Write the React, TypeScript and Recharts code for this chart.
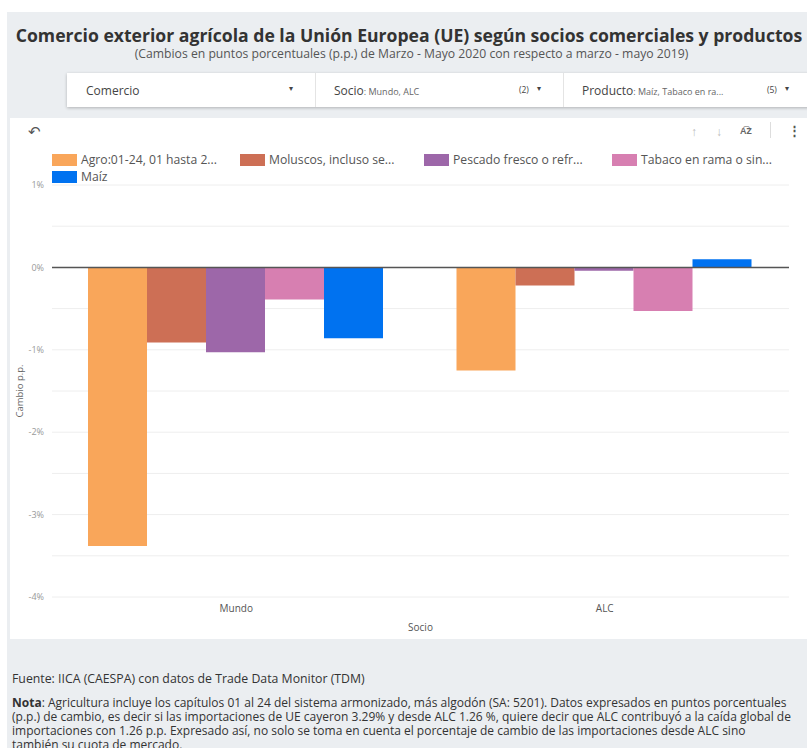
import * as React from "react";
import { Bar, BarChart, CartesianGrid, Label, ReferenceLine, XAxis, YAxis } from "recharts";

const socios = ["Mundo", "ALC"];
const agro = [-3.38, -1.25];
const moluscos = [-0.91, -0.22];
const pescado = [-1.03, -0.04];
const tabaco = [-0.39, -0.53];
const maiz = [-0.86, 0.1];
const yTicks = [-4, -3.5, -3, -2.5, -2, -1.5, -1, -0.5, 0, 0.5, 1];

const series = [
  { key: "agro", name: "Agro:01-24, 01 hasta 2...", color: "#f9a65a", values: agro },
  { key: "moluscos", name: "Moluscos, incluso se...", color: "#cd6f55", values: moluscos },
  { key: "pescado", name: "Pescado fresco o refr...", color: "#9d67a9", values: pescado },
  { key: "tabaco", name: "Tabaco en rama o sin...", color: "#d77fb1", values: tabaco },
  { key: "maiz", name: "Maíz", color: "#0072f0", values: maiz }
];

const data = socios.map((s, i) => {
  const row: Record<string, string | number> = { socio: s };
  series.forEach((se) => (row[se.key] = se.values[i]));
  return row;
});

const FONT = "'Open Sans', sans-serif";
const legendPos = [
  { left: 42, top: 33 },
  { left: 230, top: 33 },
  { left: 414, top: 33 },
  { left: 602, top: 33 },
  { left: 42, top: 50 }
];

function fmtPct(v: number) {
  return Number.isInteger(v) ? `${v}%` : "";
}

export default function App() {
  return (
    <div
      style={{
        position: "absolute",
        left: 0,
        top: 0,
        width: 807,
        height: 748,
        overflow: "hidden",
        background: "#fff",
        fontFamily: FONT
      }}
    >
      <div style={{ position: "absolute", left: 7, top: 12, width: 820, height: 760, background: "#ebeef1" }} />

      <div
        style={{
          position: "absolute",
          left: 0,
          top: 23,
          width: 818,
          textAlign: "center",
          fontSize: 17.6,
          fontWeight: 700,
          color: "#333",
          whiteSpace: "nowrap"
        }}
      >
        Comercio exterior agrícola de la Unión Europea (UE) según socios comerciales y productos
      </div>
      <div
        style={{
          position: "absolute",
          left: 0,
          top: 45,
          width: 823,
          textAlign: "center",
          fontSize: 12.2,
          color: "#555",
          whiteSpace: "nowrap"
        }}
      >
        (Cambios en puntos porcentuales (p.p.) de Marzo - Mayo 2020 con respecto a marzo - mayo 2019)
      </div>

      {/* filtros */}
      <div
        style={{
          position: "absolute",
          left: 67,
          top: 73,
          width: 760,
          height: 34,
          background: "#fff",
          boxShadow: "0 1px 3px rgba(0,0,0,0.25)",
          fontSize: 12,
          color: "#444"
        }}
      >
        <div style={{ position: "absolute", left: 19, top: 9 }}>Comercio</div>
        <div style={{ position: "absolute", left: 222, top: 9, fontSize: 8 }}>▾</div>
        <div style={{ position: "absolute", left: 248, top: 0, width: 1, height: 34, background: "#e4e4e4" }} />
        <div style={{ position: "absolute", left: 267, top: 9, whiteSpace: "nowrap" }}>
          Socio<span style={{ fontSize: 9, color: "#666" }}>: Mundo, ALC</span>
        </div>
        <div style={{ position: "absolute", left: 452, top: 11, fontSize: 8.5 }}>(2)</div>
        <div style={{ position: "absolute", left: 470, top: 9, fontSize: 8 }}>▾</div>
        <div style={{ position: "absolute", left: 496, top: 0, width: 1, height: 34, background: "#e4e4e4" }} />
        <div style={{ position: "absolute", left: 515, top: 9, whiteSpace: "nowrap" }}>
          Producto<span style={{ fontSize: 9, color: "#666" }}>: Maíz, Tabaco en ra...</span>
        </div>
        <div style={{ position: "absolute", left: 700, top: 11, fontSize: 8.5 }}>(5)</div>
        <div style={{ position: "absolute", left: 718, top: 9, fontSize: 8 }}>▾</div>
      </div>

      {/* tarjeta del gráfico */}
      <div style={{ position: "absolute", left: 10, top: 118, width: 797, height: 521, background: "#fff" }}>
        <div style={{ position: "absolute", left: 18, top: 3, fontSize: 15, color: "#555" }}>↶</div>
        <div style={{ position: "absolute", left: 681, top: 5, fontSize: 12, color: "#bbb" }}>↑</div>
        <div style={{ position: "absolute", left: 706, top: 5, fontSize: 12, color: "#bbb" }}>↓</div>
        <div style={{ position: "absolute", left: 730, top: 6, fontSize: 9, fontWeight: 700, color: "#666" }}>
          A͡Z
        </div>
        <div style={{ position: "absolute", left: 760, top: 4, width: 1, height: 16, background: "#ddd" }} />
        <div style={{ position: "absolute", left: 778, top: 3, fontSize: 13, fontWeight: 700, color: "#555" }}>⋮</div>

        {series.map((s, i) => (
          <div
            key={s.key}
            style={{
              position: "absolute",
              left: legendPos[i].left,
              top: legendPos[i].top,
              display: "flex",
              alignItems: "center",
              fontSize: 12.2,
              color: "#555",
              whiteSpace: "nowrap"
            }}
          >
            <span style={{ display: "inline-block", width: 25, height: 12, background: s.color, marginRight: 4 }} />
            {s.name}
          </div>
        ))}

        <div style={{ position: "absolute", left: 0, top: 0 }}>
          <BarChart
            width={797}
            height={521}
            data={data}
            margin={{ top: 67, right: 18, bottom: 0, left: 0 }}
            barGap={0}
            barCategoryGap={36}
          >
            <CartesianGrid vertical={false} stroke="#eeeeee" />
            <XAxis
              dataKey="socio"
              axisLine={false}
              tickLine={false}
              height={42}
              tick={{ fontSize: 10, fill: "#555", fontFamily: FONT }}
            >
              <Label value="Socio" position="insideBottom" offset={8} style={{ fontSize: 10, fill: "#555", fontFamily: FONT }} />
            </XAxis>
            <YAxis
              domain={[-4, 1]}
              ticks={yTicks}
              interval={0}
              tickFormatter={fmtPct}
              axisLine={false}
              tickLine={false}
              width={42}
              tick={{ fontSize: 9, fill: "#999", fontFamily: FONT }}
            >
              <Label
                value="Cambio p.p."
                angle={-90}
                position="insideLeft"
                offset={10}
                style={{ fontSize: 9.5, fill: "#666", fontFamily: FONT, textAnchor: "middle" }}
              />
            </YAxis>
            <ReferenceLine y={0} stroke="#555" strokeWidth={1.5} />
            {series.map((s) => (
              <Bar key={s.key} dataKey={s.key} name={s.name} fill={s.color} isAnimationActive={false} />
            ))}
          </BarChart>
        </div>
      </div>

      {/* pie */}
      <div style={{ position: "absolute", left: 12, top: 670, fontSize: 12.3, color: "#333", whiteSpace: "nowrap" }}>
        Fuente: IICA (CAESPA) con datos de Trade Data Monitor (TDM)
      </div>
      <div
        style={{
          position: "absolute",
          left: 12,
          top: 696,
          fontSize: 12,
          lineHeight: "14px",
          color: "#333",
          whiteSpace: "nowrap"
        }}
      >
        <div>
          <b>Nota</b>: Agricultura incluye los capítulos 01 al 24 del sistema armonizado, más algodón (SA: 5201). Datos
          expresados en puntos porcentuales
        </div>
        <div>
          (p.p.) de cambio, es decir si las importaciones de UE cayeron 3.29% y desde  ALC 1.26 %, quiere decir que ALC
          contribuyó a la caída global de
        </div>
        <div>
          importaciones con 1.26 p.p. Expresado así, no solo se toma en cuenta el porcentaje de cambio de las
          importaciones desde ALC sino
        </div>
        <div>también su cuota de mercado.</div>
      </div>
    </div>
  );
}
